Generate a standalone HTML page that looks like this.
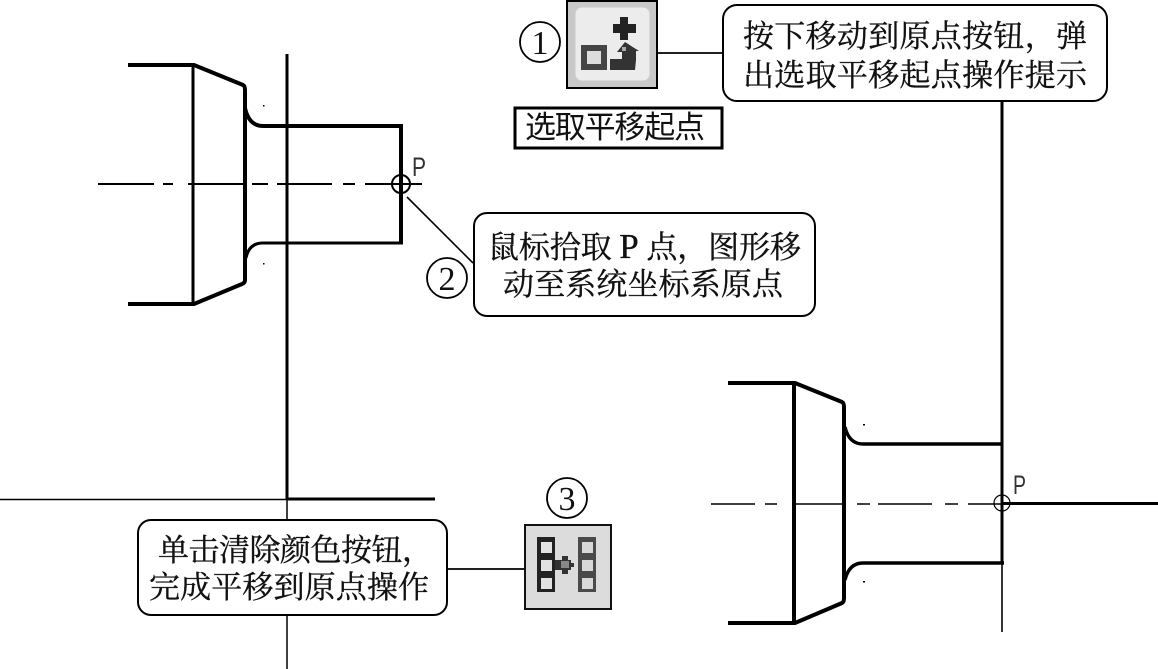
<!DOCTYPE html>
<html><head><meta charset="utf-8"><style>
html,body{margin:0;padding:0;background:#fff}
svg{display:block}
.s{font-family:"Liberation Serif","Noto Serif CJK SC",serif;font-size:31px;fill:#111;stroke:#111;stroke-width:.35px}
.g{font-family:"Liberation Sans","Noto Sans CJK SC",sans-serif;font-size:31px;fill:#111}
.n{font-family:"Liberation Serif",serif;font-size:34px;fill:#111;text-anchor:middle}
.p{font-family:"Liberation Sans",sans-serif;font-size:27px;fill:#333}
.b{font-size:35px}
</style></head><body>
<svg width="1158" height="669" viewBox="0 0 1158 669" xmlns="http://www.w3.org/2000/svg">
<rect width="1158" height="669" fill="#fff"/>
<g fill="none" stroke="#000">
<!-- left part -->
<path stroke-width="1.500" d="M287 499V669M0 499.500H287"/>
<path stroke-width="3" d="M287 54V499M287 499H435"/>
<path stroke-width="4" d="M128 65H194L243 85Q245 86 245 90V280Q245 283 242 284L194 304H128"/>
<path stroke-width="3" d="M193 65V304"/>
<path stroke-width="4" d="M245 108Q249 126 263 126H401V243"/>
<path stroke-width="3" d="M246 258Q249 243 263 243H403"/>
<path stroke-width="2" d="M98 184H154M163 184H173M188 184H243M252 184H268M277 184H332M343 184H355M365 184H422"/>
<circle cx="401" cy="184" r="9" stroke-width="2"/>
<path stroke-width="1.600" d="M407 197L473 263"/>
<!-- right part -->
<path stroke-width="3" d="M1002 101V563"/>
<path stroke-width="1.600" d="M1002 563V632"/>
<path stroke-width="4" d="M728 383H795L842 402Q844 403 844 407V598Q844 602 842 603L795 623H728"/>
<path stroke-width="4" d="M794 383V623"/>
<path stroke-width="3.400" d="M845 427Q849 444 863 444H1002M845 580Q849 563 863 563H1004"/>
<path stroke-width="1.400" d="M711 504H755M765 504H777M793 504H846M857 504H870M878 504H932M945 504H958M968 504H1002"/>
<path stroke-width="3" d="M1002 503.500H1158"/>
<circle cx="1002" cy="503" r="8" stroke-width="1.200"/>
<!-- connectors -->
<path stroke-width="1.800" d="M657 53H723M447 569H525"/>
<!-- callouts -->
<rect x="723" y="5" width="384" height="96" rx="14" fill="#fff" stroke-width="2"/>
<rect x="474" y="213" width="341" height="103" rx="13" fill="#fff" stroke-width="2"/>
<rect x="138" y="520" width="309" height="95" rx="13" fill="#fff" stroke-width="2"/>
<rect x="515" y="108" width="207" height="40" fill="#fff" stroke-width="3"/>
<circle cx="540" cy="42" r="20" fill="#fff" stroke-width="1.800"/>
<circle cx="447" cy="278" r="20" fill="#fff" stroke-width="1.800"/>
<circle cx="567" cy="498" r="20" fill="#fff" stroke-width="1.800"/>
</g>
<g fill="#000">
<rect x="263" y="105" width="1.500" height="1.500"/><rect x="263" y="263" width="1.500" height="1.500"/>
<rect x="863" y="424" width="2" height="1.500"/><rect x="863" y="581" width="2" height="1.500"/>
</g>
<text class="p" x="412" y="176" textLength="14" lengthAdjust="spacingAndGlyphs">P</text>
<text class="p" x="1013" y="494" textLength="13" lengthAdjust="spacingAndGlyphs">P</text>
<text class="n" x="540" y="54">1</text>
<text class="n" x="447" y="290">2</text>
<text class="n" x="567" y="510">3</text>
<!-- callout text -->
<text class="s" x="743" y="47" textLength="344" lengthAdjust="spacing">按下移动到原点按钮，弹</text>
<text class="s" x="743" y="86" textLength="344" lengthAdjust="spacing">出选取平移起点操作提示</text>
<text class="s" x="488" y="258" textLength="313" lengthAdjust="spacing">鼠标拾取 <tspan class="b">P</tspan> 点，图形移</text>
<text class="s" x="503" y="295" textLength="280" lengthAdjust="spacing">动至系统坐标系原点</text>
<text class="s" x="158" y="561" textLength="275" lengthAdjust="spacing">单击清除颜色按钮，</text>
<text class="s" x="149" y="598" textLength="280" lengthAdjust="spacing">完成平移到原点操作</text>
<text class="g" x="525" y="138" textLength="180" lengthAdjust="spacing">选取平移起点</text>
<!-- icon 1 -->
<rect x="567" y="1" width="90" height="87" fill="#c8c8c8" stroke="#000" stroke-width="2"/>
<rect x="574" y="6" width="77" height="76" rx="8" fill="#ececec" stroke="#c9c9c9" stroke-width="3"/>
<path d="M620 17h8v7h8v9h-8v7h-8v-7h-7v-9h7z" fill="#222"/>
<rect x="581" y="45" width="26" height="25" fill="#444"/>
<rect x="587" y="51" width="14" height="13" fill="#ddd"/>
<path d="M610 59h12v-7h-5l8-10 14 9h-3v9l-1 10h-25z" fill="#333"/>
<rect x="622" y="47" width="4" height="4" fill="#aaa"/>
<!-- icon 3 -->
<rect x="525" y="525" width="86" height="84" fill="#dcdcdc" stroke="#111" stroke-width="2"/>
<rect x="537" y="537" width="18" height="55" fill="#222"/>
<rect x="541" y="542" width="11" height="11" fill="#e2e2e2"/>
<rect x="541" y="560" width="11" height="11" fill="#e2e2e2"/>
<rect x="541" y="578" width="11" height="11" fill="#e2e2e2"/>
<rect x="578" y="537" width="18" height="55" fill="#4a4a4a"/>
<rect x="582" y="542" width="11" height="11" fill="#d8d8d8"/>
<rect x="582" y="560" width="11" height="11" fill="#d8d8d8"/>
<rect x="582" y="578" width="11" height="11" fill="#d8d8d8"/>
<path d="M555 560h7v-4h6v4h3v3h3v4h-3v3h-3v4h-6v-4h-7z" fill="#333"/>
<rect x="561" y="561" width="8" height="7" fill="#888"/>
</svg>
</body></html>
